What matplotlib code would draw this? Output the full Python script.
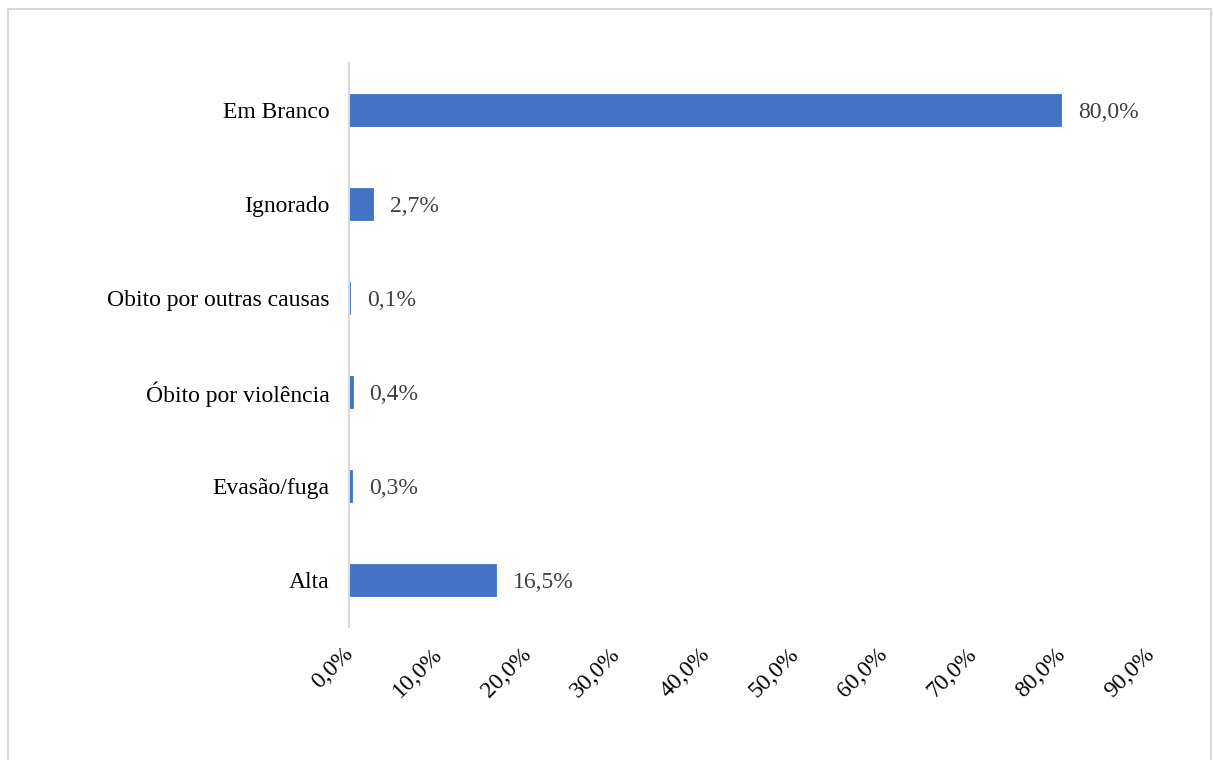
import matplotlib.pyplot as plt
import matplotlib.transforms as mtransforms
from matplotlib.patches import Rectangle

# Categorias de baixo para cima, como aparecem no eixo
categorias = ['Alta', 'Evasão/fuga', 'Óbito por violência',
              'Obito por outras causas', 'Ignorado', 'Em Branco']
percentuais = [16.5, 0.3, 0.4, 0.1, 2.7, 80.0]
rotulos = ['16,5%', '0,3%', '0,4%', '0,1%', '2,7%', '80,0%']
ticks_x = [0, 10, 20, 30, 40, 50, 60, 70, 80, 90]
ticks_x_rotulos = ['0,0%', '10,0%', '20,0%', '30,0%', '40,0%',
                   '50,0%', '60,0%', '70,0%', '80,0%', '90,0%']

plt.rcParams['font.family'] = ['Liberation Serif', 'DejaVu Serif']

W, H = 1213, 760
fig = plt.figure(figsize=(W / 100, H / 100), dpi=100)
fig.patches.append(Rectangle((8 / W, -0.01), 1203 / W, 1 - 9 / H + 0.01,
                             transform=fig.transFigure, fill=False,
                             edgecolor='#d9d9d9', linewidth=1.5))

ax = fig.add_axes([349 / W, 1 - 627 / H, (1150 - 349) / W, (627 - 63) / H])
y = range(len(categorias))
ax.barh(y, percentuais, height=0.35, color='#4472C4',
        edgecolor='#4472C4', linewidth=0.6)

for yi, v, txt in zip(y, percentuais, rotulos):
    ax.annotate(txt, (v, yi), xytext=(17, -3), textcoords='offset pixels',
                va='center', ha='left', fontsize=17, color='#404040')

ax.set_xlim(0, 90)
ax.set_ylim(-0.5, len(categorias) - 0.5)
ax.set_yticks(list(y))
ax.set_yticklabels(categorias, fontsize=17, color='black')
ax.set_xticks(ticks_x)
ax.set_xticklabels(ticks_x_rotulos, fontsize=17, rotation=45,
                   ha='right', rotation_mode='anchor')
ax.tick_params(axis='both', length=0)
ax.tick_params(axis='y', pad=14)
ax.tick_params(axis='x', pad=12)

# desloca levemente os rótulos do eixo x para a esquerda
desloc = mtransforms.ScaledTranslation(-6 / 100, 0, fig.dpi_scale_trans)
for lbl in ax.get_xticklabels():
    lbl.set_transform(lbl.get_transform() + desloc)

for s in ['top', 'right', 'bottom']:
    ax.spines[s].set_visible(False)
ax.spines['left'].set_color('#d9d9d9')
ax.spines['left'].set_linewidth(1.5)

fig.savefig('out.png', dpi=100)
